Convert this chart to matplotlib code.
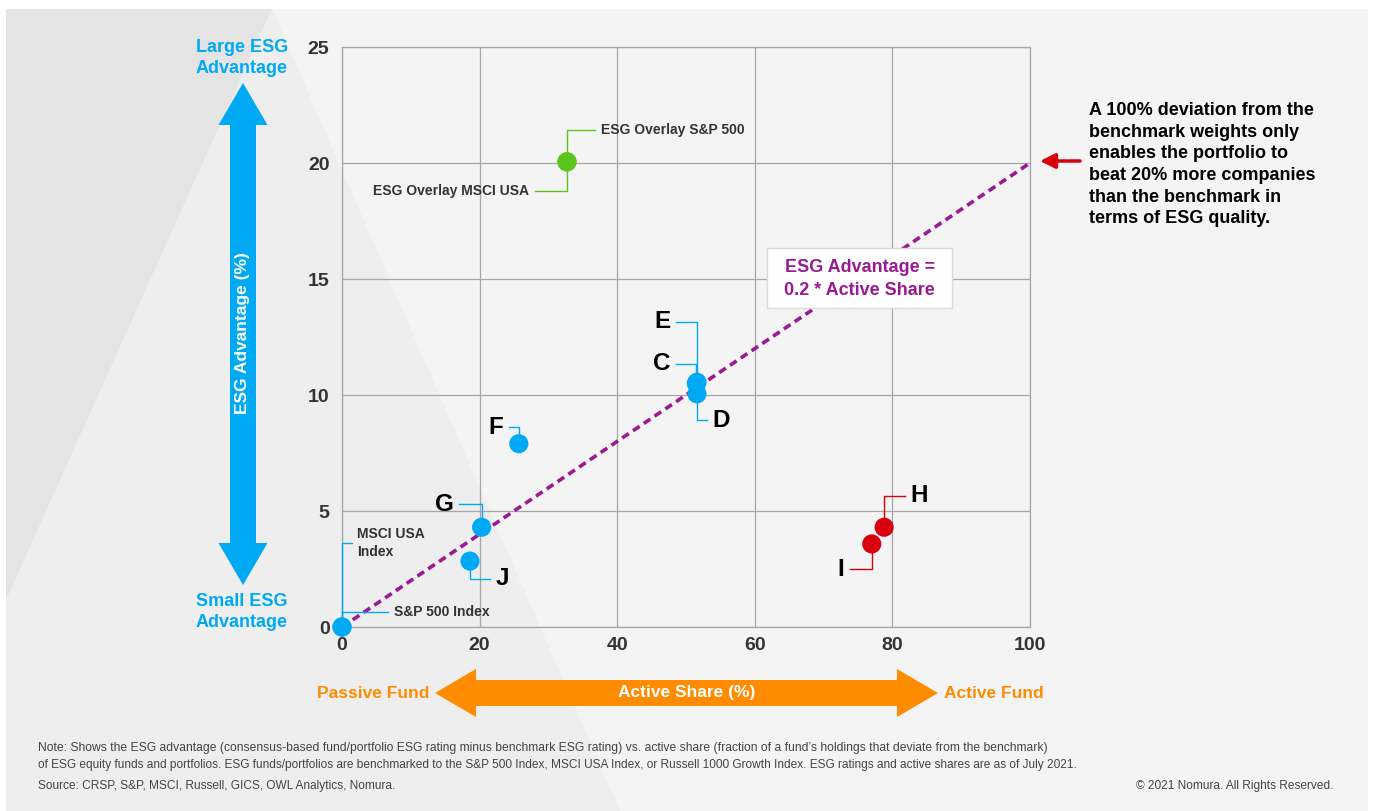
import numpy as np
import matplotlib.pyplot as plt
from matplotlib.patches import Polygon, Rectangle

plt.rcParams['font.family'] = ['Liberation Sans', 'DejaVu Sans']

# --- data: active share (%) vs ESG advantage (%) ---
names = ['MSCI USA Index', 'S&P 500 Index', 'ESG Overlay MSCI USA', 'ESG Overlay S&P 500',
         'C', 'D', 'E', 'F', 'G', 'H', 'I', 'J']
active_share = [0.0, 0.0, 32.7, 32.7, 51.5, 51.6, 51.6, 25.7, 20.3, 78.8, 77.0, 18.6]
esg_advantage = [0.0, 0.0, 20.05, 20.05, 10.5, 10.05, 10.55, 7.9, 4.3, 4.3, 3.58, 2.84]
groups = ['blue', 'blue', 'green', 'green', 'blue', 'blue', 'blue', 'blue', 'blue', 'red', 'red', 'blue']

slope = 0.2
fit_x = np.array([0, 100])
x_ticks = [0, 20, 40, 60, 80, 100]
y_ticks = [0, 5, 10, 15, 20, 25]

note_lines = [
    "Note: Shows the ESG advantage (consensus-based fund/portfolio ESG rating minus benchmark ESG rating) vs. active share (fraction of a fund\u2019s holdings that deviate from the benchmark)",
    "of ESG equity funds and portfolios. ESG funds/portfolios are benchmarked to the S&P 500 Index, MSCI USA Index, or Russell 1000 Growth Index. ESG ratings and active shares are as of July 2021.",
]
source = "Source: CRSP, S&P, MSCI, Russell, GICS, OWL Analytics, Nomura."
copyright_txt = "\u00a9 2021 Nomura. All Rights Reserved."
side_note = ("A 100% deviation from the\nbenchmark weights only\nenables the portfolio to\n"
             "beat 20% more companies\nthan the benchmark in\nterms of ESG quality.")

# callout elbows: (elbow y, end x) in data units
callouts = {
    'MSCI USA Index': (3.62, 1.45),
    'S&P 500 Index': (0.65, 6.7),
    'ESG Overlay MSCI USA': (18.8, 28.05),
    'ESG Overlay S&P 500': (21.42, 36.8),
    'C': (11.34, 48.5),
    'D': (8.92, 53.05),
    'E': (13.15, 48.5),
    'F': (8.62, 24.3),
    'G': (5.3, 17.0),
    'H': (5.65, 81.8),
    'I': (2.5, 73.8),
    'J': (2.07, 21.5),
}
shown = {'MSCI USA Index': 'MSCI USA\nIndex'}

colors = {'blue': '#00a9f4', 'green': '#5cc51c', 'red': '#d9000d'}
BLUE, ORANGE, PURPLE = '#00a9f4', '#ff8c00', '#991a94'
W, H = 1375, 811

fig = plt.figure(figsize=(W / 100, H / 100), dpi=100)
fig.patch.set_facecolor('white')

# background shapes, pixel coordinates
bg = fig.add_axes([0, 0, 1, 1], zorder=0)
bg.set_xlim(0, W)
bg.set_ylim(H, 0)
bg.axis('off')
bg.add_patch(Polygon([(6, 9), (1368, 9), (1368, H), (6, H)], closed=True, fc='#f4f4f4', ec='none'))
bg.add_patch(Polygon([(272, 9), (6, 600), (6, H), (620, H)], closed=True, fc='#eeeeee', ec='none'))
bg.add_patch(Polygon([(6, 9), (272, 9), (6, 600)], closed=True, fc='#e4e4e4', ec='none'))

# main chart
ax = fig.add_axes([342 / W, 1 - 627 / H, 688 / W, 580 / H], zorder=1)
ax.patch.set_alpha(0)
ax.set_xlim(0, 100)
ax.set_ylim(0, 25)
ax.set_xticks(x_ticks)
ax.set_yticks(y_ticks)
ax.grid(True, color='#a6a6a6', linewidth=0.9)
ax.set_axisbelow(True)
for s in ax.spines.values():
    s.set_color('#a6a6a6')
    s.set_linewidth(0.9)
ax.tick_params(length=0, labelsize=14, labelcolor='#333333')
ax.tick_params(axis='x', pad=7)
ax.tick_params(axis='y', pad=9)
for lab in ax.get_xticklabels() + ax.get_yticklabels():
    lab.set_fontweight('bold')

ax.plot(fit_x, slope * fit_x, color=PURPLE, linewidth=2.6, linestyle=(0, (2.2, 1.4)),
        zorder=2, clip_on=False)

for name, x, y, g in zip(names, active_share, esg_advantage, groups):
    ey, ex = callouts[name]
    ax.plot([x, x, ex], [y, ey, ey], color=colors[g], linewidth=1, zorder=3, clip_on=False)
    right = ex > x
    tx = ex + (0.8 if right else -0.8)
    if len(name) == 1:
        ax.text(tx, ey, name, ha='left' if right else 'right', va='center',
                fontsize=17.5, fontweight='bold', color='black', zorder=5)
    else:
        ax.text(tx, ey, shown.get(name, name), ha='left' if right else 'right', va='center',
                fontsize=10, fontweight='bold', color='#333333', linespacing=1.35, zorder=5)

ax.scatter(active_share, esg_advantage, s=190, c=[colors[g] for g in groups],
           edgecolors='none', zorder=4, clip_on=False)

# formula box
ax.add_patch(Rectangle((61.8, 13.75), 26.9, 2.59, fc='white', ec='#d9d9d9', lw=1, zorder=5))
ax.text(75.25, 15.0, 'ESG Advantage =\n0.2 * Active Share', ha='center', va='center',
        fontsize=13, fontweight='bold', color=PURPLE, linespacing=1.42, zorder=6)

# overlay for arrows and side texts, pixel coordinates
ov = fig.add_axes([0, 0, 1, 1], zorder=2)
ov.set_xlim(0, W)
ov.set_ylim(H, 0)
ov.axis('off')


def double_arrow(a, b, c, vertical, color, head=42, hw=24.5, sw=13):
    # a, b: tip positions along the arrow, c: centre across it
    pts = [(a, c), (a + head, c - hw), (a + head, c - sw), (b - head, c - sw), (b - head, c - hw),
           (b, c), (b - head, c + hw), (b - head, c + sw), (a + head, c + sw), (a + head, c + hw)]
    if vertical:
        pts = [(q, p) for p, q in pts]
    ov.add_patch(Polygon(pts, closed=True, fc=color, ec='none'))


double_arrow(83, 585, 243, True, BLUE)
ov.text(243, 333, 'ESG Advantage (%)', rotation=90, ha='center', va='center',
        fontsize=12.5, fontweight='bold', color='white')
ov.text(242, 58, 'Large ESG\nAdvantage', ha='center', va='center', fontsize=13,
        fontweight='bold', color=BLUE, linespacing=1.3)
ov.text(242, 612, 'Small ESG\nAdvantage', ha='center', va='center', fontsize=13,
        fontweight='bold', color=BLUE, linespacing=1.3)

double_arrow(435, 938, 693, False, ORANGE, head=41, hw=24, sw=13)
ov.text(687, 693, 'Active Share (%)', ha='center', va='center', fontsize=12.5,
        fontweight='bold', color='white')
ov.text(429, 693, 'Passive Fund', ha='right', va='center', fontsize=12.5,
        fontweight='bold', color=ORANGE)
ov.text(944, 693, 'Active Fund', ha='left', va='center', fontsize=12.5,
        fontweight='bold', color=ORANGE)

ov.annotate('', xy=(1040, 161), xytext=(1080, 161),
            arrowprops=dict(arrowstyle='-|>,head_length=0.9,head_width=0.45', color='#d9000d',
                            lw=2.5, shrinkA=0, shrinkB=0))
ov.text(1089, 102, side_note, ha='left', va='top', fontsize=13, fontweight='bold',
        color='black', linespacing=1.36)

ov.text(38, 748, note_lines[0], ha='left', va='center', fontsize=8.7, color='#444444')
ov.text(38, 765, note_lines[1], ha='left', va='center', fontsize=8.6, color='#444444')
ov.text(38, 786, source, ha='left', va='center', fontsize=8.6, color='#444444')
ov.text(1333, 786, copyright_txt, ha='right', va='center', fontsize=8.6, color='#444444')

fig.savefig('out.png', dpi=100, facecolor='white')
